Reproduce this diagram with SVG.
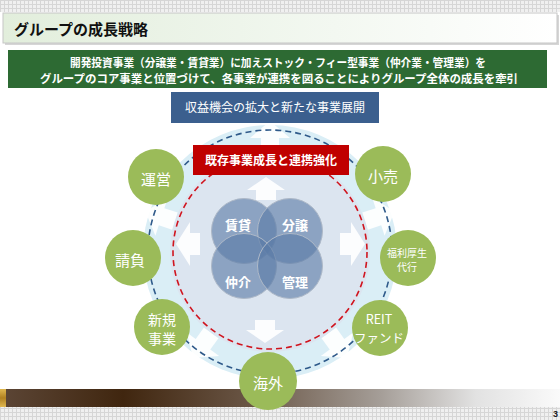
<svg xmlns="http://www.w3.org/2000/svg" width="560" height="420" viewBox="0 0 560 420">
<defs>
<style>
.jp{font-family:"Noto Sans CJK JP","Noto Sans",sans-serif}
.wt{fill:#fff}
.gc{fill:#9BBB59}
.gt{font-family:"Noto Sans CJK JP","Noto Sans",sans-serif;fill:#fff;text-anchor:middle}
.vc{fill:#5B7BA6;fill-opacity:0.62;stroke:#AEB9C8;stroke-width:1}
.vt{font-family:"Noto Sans CJK JP","Noto Sans",sans-serif;fill:#fff;font-size:13px;font-weight:bold;text-anchor:middle}
.arr{fill:#fff;fill-opacity:0.9}
</style>
<pattern id="grid" width="4" height="4" patternUnits="userSpaceOnUse">
<rect width="4" height="4" fill="#F0F0F0"/>
<path d="M0 0.5H4M0.5 0V4" stroke="#D6D6D6" stroke-width="1"/>
</pattern>
<linearGradient id="titleG" x1="0" y1="0" x2="1" y2="0">
<stop offset="0" stop-color="#E2EEDC"/>
<stop offset="0.6" stop-color="#F3F8F1"/>
<stop offset="1" stop-color="#FFFFFF"/>
</linearGradient>
<linearGradient id="barG" x1="0" y1="0" x2="1" y2="0">
<stop offset="0" stop-color="#5C4636"/>
<stop offset="0.22" stop-color="#40260F"/>
<stop offset="0.45" stop-color="#6A5646"/>
<stop offset="0.68" stop-color="#A59E98"/>
<stop offset="0.85" stop-color="#E2E2E2"/>
<stop offset="1" stop-color="#FAFAFA"/>
</linearGradient>
<linearGradient id="goldG" x1="0" y1="0" x2="0" y2="1">
<stop offset="0" stop-color="#E0B850"/>
<stop offset="0.5" stop-color="#B08020"/>
<stop offset="1" stop-color="#E0B850"/>
</linearGradient>
<path id="outArrow" d="M-9 -100 L-9 -114 L-20 -114 L0 -131 L20 -114 L9 -114 L9 -100 Z"/>
</defs>

<!-- background -->
<rect width="560" height="420" fill="#fff"/>
<rect x="0" y="0" width="560" height="12" fill="url(#grid)"/>
<rect x="0" y="407" width="560" height="13" fill="url(#grid)"/>

<!-- title -->
<g id="title">
<rect x="5" y="15" width="554" height="30" fill="#D6D6D6"/>
<rect x="3" y="13" width="554" height="30" fill="url(#titleG)" stroke="#C6C6C6" stroke-width="1"/>
<text x="14" y="35" class="jp" font-size="15" font-weight="bold" fill="#111">グループの成長戦略</text>
</g>

<!-- banner -->
<g id="banner">
<rect x="8" y="50" width="539" height="38" fill="#2D6A33"/>
<text x="278" y="67" class="jp wt" font-size="11.5" font-weight="bold" text-anchor="middle" textLength="416" lengthAdjust="spacingAndGlyphs">開発投資事業（分譲業・賃貸業）に加えストック・フィー型事業（仲介業・管理業）を</text>
<text x="279" y="83" class="jp wt" font-size="11.5" font-weight="bold" text-anchor="middle" textLength="478" lengthAdjust="spacingAndGlyphs">グループのコア事業と位置づけて、各事業が連携を図ることによりグループ全体の成長を牽引</text>
</g>

<!-- ring -->
<g id="ring">
<circle cx="270" cy="252" r="127" fill="#DAEEF6"/>
<g transform="translate(270 252)">
<use href="#outArrow" class="arr"/>
<use href="#outArrow" class="arr" transform="rotate(72)"/>
<use href="#outArrow" class="arr" transform="rotate(144)"/>
<use href="#outArrow" class="arr" transform="rotate(216)"/>
<use href="#outArrow" class="arr" transform="rotate(288)"/>
</g>
<circle cx="270" cy="252" r="100" fill="#DCE5F0"/>
</g>

<!-- connectors -->
<g id="connectors" fill="none" stroke-width="1.6">
<circle cx="270" cy="252" r="122" stroke="#2F5A8A" stroke-dasharray="6 4"/>
<circle cx="270" cy="252" r="97" stroke="#D0141E" stroke-dasharray="6 4"/>
</g>

<!-- inner arrows -->
<g id="inner-arrows" class="arr">
<path d="M256 200 L256 190 L247 190 L266 177 L285 190 L276 190 L276 200 Z"/>
<path d="M255 320 L255 330 L246 330 L265 343 L284 330 L275 330 L275 320 Z"/>
<path d="M200 233 L190 233 L190 222 L176 244 L190 266 L190 255 L200 255 Z"/>
<path d="M340 233 L351 233 L351 222 L365 244 L351 266 L351 255 L340 255 Z"/>
</g>

<!-- blue box -->
<g id="expand-box">
<rect x="171" y="92" width="208" height="31" fill="#3B5F8E"/>
<text x="275" y="112" class="jp wt" font-size="12" text-anchor="middle">収益機会の拡大と新たな事業展開</text>
</g>

<!-- red box -->
<g id="core-box">
<rect x="193" y="145" width="156" height="30" fill="#C00000"/>
<text x="271" y="165" class="jp wt" font-size="12" font-weight="bold" text-anchor="middle">既存事業成長と連携強化</text>
</g>

<!-- venn -->
<g id="chintai"><circle class="vc" cx="244" cy="231" r="32.5"/><text class="vt" x="238" y="230">賃貸</text></g>
<g id="bunjo"><circle class="vc" cx="290" cy="231" r="32.5"/><text class="vt" x="295" y="230">分譲</text></g>
<g id="chukai"><circle class="vc" cx="244" cy="266" r="32.5"/><text class="vt" x="238" y="287">仲介</text></g>
<g id="kanri"><circle class="vc" cx="290" cy="266" r="32.5"/><text class="vt" x="295" y="287">管理</text></g>

<!-- green nodes -->
<g id="unei"><circle class="gc" cx="156" cy="177" r="28"/><text class="gt" x="156" y="185" font-size="15">運営</text></g>
<g id="kouri"><circle class="gc" cx="383" cy="174" r="28"/><text class="gt" x="383" y="182" font-size="15">小売</text></g>
<g id="ukeoi"><circle class="gc" cx="133" cy="258" r="28"/><text class="gt" x="130" y="266" font-size="15">請負</text></g>
<g id="fukuri"><circle class="gc" cx="408" cy="258" r="28"/><text class="gt" x="407" y="257" font-size="10">福利厚生</text><text class="gt" x="407" y="271" font-size="10">代行</text></g>
<g id="shinki"><circle class="gc" cx="162" cy="327" r="28"/><text class="gt" x="162" y="325" font-size="14">新規</text><text class="gt" x="162" y="344" font-size="14">事業</text></g>
<g id="reit"><circle class="gc" cx="380" cy="328" r="28"/><text class="gt" x="379" y="324" font-size="12.5">REIT</text><text class="gt" x="379" y="343" font-size="12.5">ファンド</text></g>

<!-- bottom bar -->
<rect x="0" y="389" width="560" height="18" fill="url(#barG)"/>
<rect x="0" y="389" width="6" height="18" fill="url(#goldG)"/>

<g id="kaigai"><circle class="gc" cx="268" cy="381" r="29"/><text class="gt" x="268" y="389" font-size="15">海外</text></g>

<text x="553" y="417" font-family="Liberation Sans, Arial, sans-serif" font-size="9" font-weight="bold" fill="#222">3</text>
</svg>
